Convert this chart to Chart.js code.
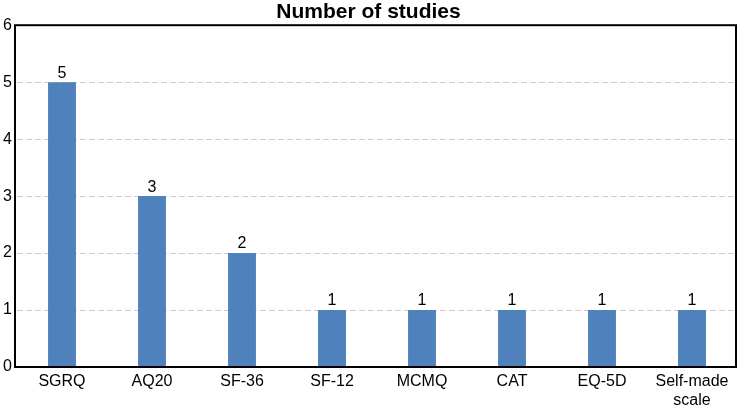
<!DOCTYPE html>
<html>
<head>
<meta charset="utf-8">
<script src="https://cdn.jsdelivr.net/npm/chart.js@4"></script>
<style>
  html, body { margin: 0; padding: 0; background: #fff; }
  #wrap { width: 738px; height: 406px; }
</style>
</head>
<body>
<div id="wrap"><canvas id="chart"></canvas></div>
<script>
// Instruments and how many studies used them
var instruments = ['SGRQ', 'AQ20', 'SF-36', 'SF-12', 'MCMQ', 'CAT', 'EQ-5D', ['Self-made', 'scale']];
var studyCounts = [5, 3, 2, 1, 1, 1, 1, 1];
var yTicks = [0, 1, 2, 3, 4, 5, 6];

var fontFamily = '"Liberation Sans", Arial, sans-serif';

// Draws the box round the plot area and the numbers above the bars
var boxAndLabels = {
  id: 'boxAndLabels',
  afterDatasetsDraw: function(chart) {
    var ctx = chart.ctx;
    var a = chart.chartArea;
    ctx.save();
    ctx.strokeStyle = '#000';
    ctx.lineWidth = 2;
    ctx.strokeRect(a.left - 2, a.top, a.right - a.left + 1, a.bottom - a.top);

    ctx.fillStyle = '#000';
    ctx.font = '16px ' + fontFamily;
    ctx.textAlign = 'center';
    ctx.textBaseline = 'bottom';
    var meta = chart.getDatasetMeta(0);
    meta.data.forEach(function(bar, i) {
      ctx.fillText(studyCounts[i], bar.x, bar.y - 1);
    });
    ctx.restore();
  }
};

new Chart('chart', {
  type: 'bar',
  data: {
    labels: instruments,
    datasets: [{
      data: studyCounts,
      backgroundColor: '#4F81BD',
      borderWidth: 0,
      barPercentage: 0.31,
      categoryPercentage: 1
    }]
  },
  options: {
    responsive: true,
    maintainAspectRatio: false,
    animation: false,
    layout: { padding: { left: 0, right: 1, top: 0, bottom: 0 } },
    plugins: {
      legend: { display: false },
      tooltip: { enabled: false },
      title: {
        display: true,
        text: 'Number of studies',
        color: '#000',
        font: { family: fontFamily, size: 21, weight: 'bold' },
        padding: { top: 0, bottom: 0 }
      }
    },
    scales: {
      x: {
        grid: { display: false, drawTicks: false },
        border: { display: false },
        ticks: {
          color: '#000',
          font: { family: fontFamily, size: 16, lineHeight: 1.2 },
          maxRotation: 0,
          autoSkip: false,
          padding: 5
        },
        afterFit: function(scale) { scale.height = 39; }
      },
      y: {
        min: 0,
        max: 6,
        afterBuildTicks: function(scale) {
          scale.ticks = yTicks.map(function(v) { return { value: v }; });
        },
        grid: { color: '#cccccc', drawTicks: false, lineWidth: 1 },
        border: { display: false, dash: [6, 3] },
        ticks: {
          color: '#000',
          font: { family: fontFamily, size: 16 },
          padding: 5
        },
        afterFit: function(scale) { scale.width = 17; }
      }
    }
  },
  plugins: [boxAndLabels]
});
</script>
</body>
</html>
